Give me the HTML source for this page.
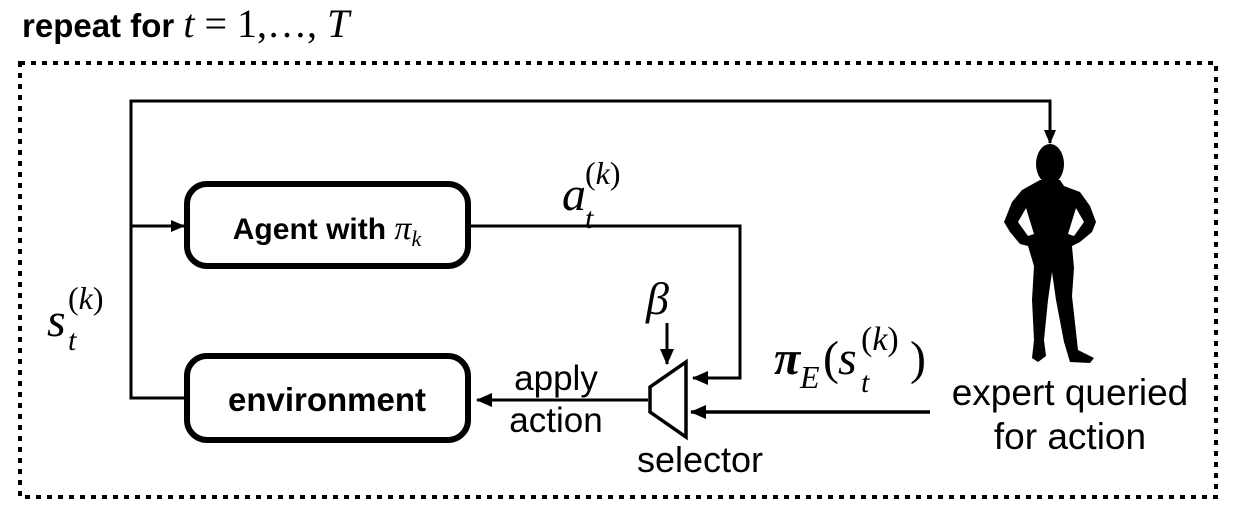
<!DOCTYPE html>
<html><head><meta charset="utf-8"><style>
html,body{margin:0;padding:0;background:#fff;}
svg{display:block}
.s{font-family:"Liberation Sans",sans-serif;}
.m{font-family:"Liberation Serif",serif;font-style:italic;}
</style></head><body>
<svg width="1234" height="516" viewBox="0 0 1234 516" xmlns="http://www.w3.org/2000/svg">
<defs>
<marker id="ar" markerWidth="14" markerHeight="12" refX="13" refY="6" orient="auto" markerUnits="userSpaceOnUse">
<path d="M0,0 L14,6 L0,12 Z" fill="#000"/>
</marker>
<marker id="ab" markerWidth="16" markerHeight="14" refX="15" refY="7" orient="auto" markerUnits="userSpaceOnUse">
<path d="M0,0 L16,7 L0,14 Z" fill="#000"/>
</marker>
</defs>
<text x="22" y="37" class="s" font-size="33" font-weight="bold" fill="#000">repeat for <tspan class="m" font-weight="normal" font-size="40">t</tspan><tspan font-family="Liberation Serif" font-weight="normal" font-size="40"> = 1,…, </tspan><tspan class="m" font-weight="normal" font-size="40">T</tspan></text>
<rect x="20" y="63" width="1196" height="434" fill="none" stroke="#000" stroke-width="4" stroke-dasharray="5 6"/>
<polyline points="185,398 131,398 131,101 1050,101 1050,143" fill="none" stroke="#000" stroke-width="3" marker-end="url(#ar)"/>
<line x1="131" y1="226" x2="184" y2="226" stroke="#000" stroke-width="3" marker-end="url(#ar)"/>
<polyline points="470,226 740,226 740,378 693,378" fill="none" stroke="#000" stroke-width="3" marker-end="url(#ab)"/>
<line x1="930" y1="412" x2="691" y2="412" stroke="#000" stroke-width="3.5" marker-end="url(#ab)"/>
<line x1="648" y1="400" x2="477" y2="400" stroke="#000" stroke-width="3" marker-end="url(#ab)"/>
<line x1="667" y1="323" x2="667" y2="364" stroke="#000" stroke-width="3" marker-end="url(#ab)"/>
<rect x="187" y="184" width="281" height="82" rx="20" fill="#fff" stroke="#000" stroke-width="6"/>
<rect x="187" y="356" width="281" height="84" rx="20" fill="#fff" stroke="#000" stroke-width="6"/>
<text x="327" y="239" class="s" font-size="30" font-weight="bold" text-anchor="middle">Agent with <tspan class="m" font-weight="normal" font-size="34">π</tspan><tspan class="m" font-weight="normal" font-size="22" dy="7">k</tspan></text>
<text x="327" y="411" class="s" font-size="33" font-weight="bold" text-anchor="middle">environment</text>
<polygon points="650,387 686,362 686,437 650,412" fill="#fff" stroke="#000" stroke-width="3.5"/>
<text x="556" y="390" class="s" font-size="35" text-anchor="middle">apply</text>
<text x="556" y="432" class="s" font-size="35" text-anchor="middle">action</text>
<text x="700" y="472" class="s" font-size="36" text-anchor="middle">selector</text>
<text x="1070" y="405" class="s" font-size="37" text-anchor="middle">expert queried</text>
<text x="1070" y="449" class="s" font-size="37" text-anchor="middle">for action</text>
<text x="646" y="314" class="m" font-size="46">β</text>
<text x="562" y="210" class="m" font-size="48">a</text>
<text x="585" y="228" class="m" font-size="30">t</text>
<text x="585" y="184" font-family="Liberation Serif" font-size="32">(<tspan class="m">k</tspan>)</text>
<text x="47" y="336" class="m" font-size="48">s</text>
<text x="68" y="350" class="m" font-size="30">t</text>
<text x="68" y="309" font-family="Liberation Serif" font-size="32">(<tspan class="m">k</tspan>)</text>
<text x="774" y="374" class="m" font-size="48" font-weight="bold">π</text>
<text x="800" y="388" class="m" font-size="32">E</text>
<text x="823" y="374" font-family="Liberation Serif" font-size="48">(</text>
<text x="838" y="374" class="m" font-size="48">s</text>
<text x="861" y="392" class="m" font-size="30">t</text>
<text x="861" y="350" font-family="Liberation Serif" font-size="34">(<tspan class="m">k</tspan>)</text>
<text x="910" y="374" font-family="Liberation Serif" font-size="48">)</text>
<g fill="#000">
<ellipse cx="1050" cy="164" rx="14" ry="20"/>
<path d="M1040,180 L1060,180 L1064,186 L1080,192 L1090,206 L1096,222 L1092,232 L1080,242 L1072,246 L1074,268 L1072,296 L1076,332 L1078,350 L1094,358 L1090,363 L1070,362 L1064,342 L1056,300 L1052,272 L1048,300 L1044,340 L1046,356 L1038,362 L1032,358 L1034,340 L1032,300 L1034,266 L1028,246 L1020,244 L1010,232 L1004,222 L1012,202 L1022,190 Z M1026,208 L1018,222 L1028,236 L1034,234 Z M1076,208 L1084,222 L1074,236 L1068,234 Z" fill-rule="evenodd"/>
</g>
</svg>
</body></html>
